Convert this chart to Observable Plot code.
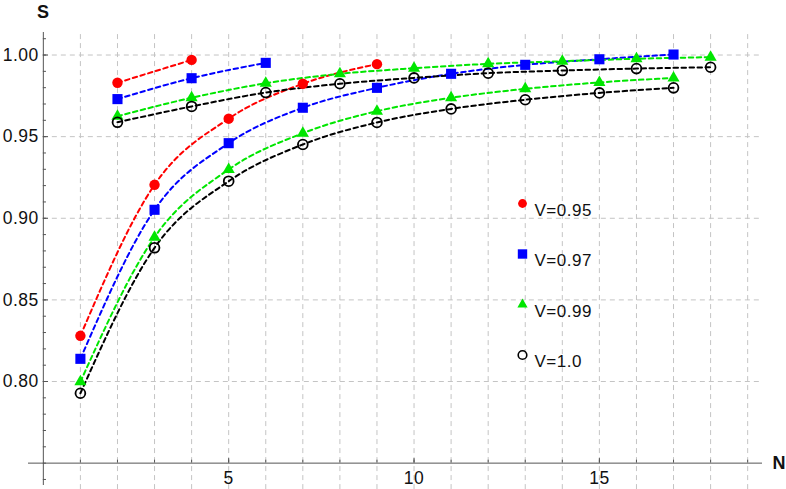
<!DOCTYPE html>
<html><head><meta charset="utf-8">
<script src="https://cdn.jsdelivr.net/npm/d3@7"></script>
<script src="https://cdn.jsdelivr.net/npm/@observablehq/plot@0.6"></script>
<style>body{margin:0;background:#fff;} svg{display:block}</style>
</head><body><div id="chart"></div>
<script>
// ---- data ----
const seriesNames = ["V=0.95", "V=0.97", "V=0.99", "V=1.0"];
const seriesColors = ["#ff0000", "#0000ff", "#00e600", "#000000"];
const seriesSymbols = ["circle", "square", "triangle", "circle"];

const nOdd  = [1, 3, 5, 7, 9, 11, 13, 15, 17];
const nEven = [2, 4, 6, 8, 10, 12, 14, 16, 18];

const sOdd095  = [0.828, 0.9205, 0.961, 0.9824, 0.9944];
const sEven095 = [0.983, 0.997];
const sOdd097  = [0.8139, 0.9052, 0.946, 0.9677, 0.9799, 0.9885, 0.994, 0.9974, 1.0003];
const sEven097 = [0.973, 0.9858, 0.9952];
const sOdd099  = [0.7998, 0.8884, 0.9299, 0.9521, 0.9656, 0.9738, 0.9793, 0.9832, 0.986];
const sEven099 = [0.9625, 0.9738, 0.9827, 0.9885, 0.9919, 0.9946, 0.9962, 0.9977, 0.9987];
const sOdd100  = [0.7928, 0.8819, 0.9227, 0.9452, 0.9587, 0.967, 0.9726, 0.9768, 0.9799];
const sEven100 = [0.9588, 0.9685, 0.977, 0.9824, 0.986, 0.9889, 0.9905, 0.9917, 0.9925];

const oddSets  = [sOdd095, sOdd097, sOdd099, sOdd100];
const evenSets = [sEven095, sEven097, sEven099, sEven100];

const yMajor = [0.80, 0.85, 0.90, 0.95, 1.00];
const yMinor = d3.range(74, 102).map(k => k / 100);
const xMajor = [5, 10, 15];
const xMinor = d3.range(1, 20);

// ---- build table ----
const rows = [];
seriesNames.forEach((v, i) => {
  oddSets[i].forEach((s, j) => rows.push({v, part: "odd", n: nOdd[j], s}));
  evenSets[i].forEach((s, j) => rows.push({v, part: "even", n: nEven[j], s}));
});

const xDomain = [-0.4, 19.4];
const yDomain = [0.7363, 1.0138];
const yBottom = 0.7338;
const axisColor = "#555555";
const gridColor = "#c4c4c4";
const font = '"Liberation Sans", Arial, sans-serif';

const symR = [5.2, 5.7, 4.5, 4.9];
const legR = [4.4, 5.3, 3.8, 4.3];

const dotMarks = seriesNames.map((v, i) => Plot.dot(rows.filter(d => d.v === v), {
  x: "n", y: "s", symbol: () => seriesSymbols[i], r: symR[i],
  fill: i === 3 ? "none" : seriesColors[i],
  stroke: i === 3 ? "#000" : "none",
  strokeWidth: 1.8
}));

const legendMarks = seriesNames.flatMap((v, i) => [
  Plot.dot([v], {frameAnchor: "top-left", dx: 494, dy: 171 + i * 50.5,
    symbol: () => seriesSymbols[i], r: legR[i],
    fill: i === 3 ? "none" : seriesColors[i],
    stroke: i === 3 ? "#000" : "none", strokeWidth: 1.6}),
  Plot.text([v], {frameAnchor: "top-left", dx: 506, dy: 171 + i * 50.5,
    text: d => d, textAnchor: "start", fontSize: 17, fill: "#111"})
]);

const chart = Plot.plot({
  width: 786, height: 489,
  marginLeft: 28, marginRight: 24, marginTop: 32, marginBottom: 4,
  x: {domain: xDomain, axis: null},
  y: {domain: yDomain, axis: null},
  style: {fontFamily: font, background: "white", letterSpacing: "0.5px"},
  marks: [
    // grid
    Plot.ruleX(xMinor, {x: d => d, y1: yBottom, y2: yDomain[1], stroke: gridColor, strokeDasharray: "5,4", strokeWidth: 1}),
    Plot.ruleY(yMajor, {y: d => d, x1: 0, x2: xDomain[1], stroke: gridColor, strokeDasharray: "5,4", strokeWidth: 1}),
    // axes
    Plot.ruleX([0], {y1: yDomain[0], y2: yDomain[1], stroke: axisColor, strokeWidth: 1}),
    Plot.ruleY([0.75], {x1: xDomain[0], x2: xDomain[1], stroke: axisColor, strokeWidth: 1}),
    // y ticks
    Plot.ruleY(yMinor, {y: d => d, x1: 0, x2: 0.085, stroke: axisColor, strokeWidth: 1}),
    Plot.ruleY(yMajor, {y: d => d, x1: 0, x2: 0.14, stroke: axisColor, strokeWidth: 1}),
    // x ticks
    Plot.ruleX(xMinor, {x: d => d, y1: 0.75, y2: 0.7518, stroke: axisColor, strokeWidth: 1}),
    Plot.ruleX(xMajor, {x: d => d, y1: 0.75, y2: 0.7528, stroke: axisColor, strokeWidth: 1}),
    // tick labels
    Plot.text(yMajor, {x: 0, y: d => d, text: d => d.toFixed(2), textAnchor: "end", dx: -4.5, fontSize: 17.5, fill: "#111"}),
    Plot.text(xMajor, {x: d => d, y: 0.75, text: d => String(d), dy: 15, fontSize: 17.5, fill: "#111"}),
    // axis labels
    Plot.text(["S"], {x: 0, y: yDomain[1], text: d => d, dy: -20, fontSize: 18, fontWeight: "bold", fill: "#111"}),
    Plot.text(["N"], {x: xDomain[1], y: 0.75, text: d => d, dx: 10, textAnchor: "start", fontSize: 18, fontWeight: "bold", fill: "#111"}),
    // curves
    Plot.line(rows, {x: "n", y: "s", z: d => d.v + d.part, stroke: d => seriesColors[seriesNames.indexOf(d.v)],
      strokeWidth: 2, strokeDasharray: "4.5,3.5", curve: "monotone-x"}),
    ...dotMarks,
    ...legendMarks
  ]
});
document.getElementById("chart").append(chart);
</script>
</body></html>
